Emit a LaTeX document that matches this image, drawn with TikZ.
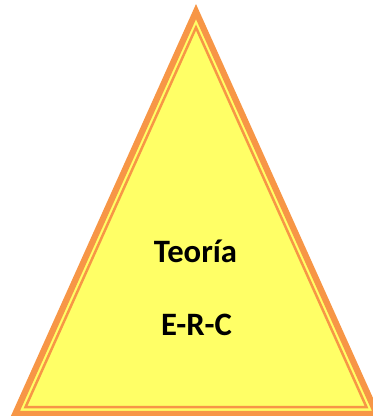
\documentclass[tikz,border=0pt]{standalone}
\usepackage{fontspec}
\setmainfont{Carlito}
\definecolor{triorange}{HTML}{F79646}
\definecolor{triyellow}{HTML}{FFFF66}
\begin{document}
\begin{tikzpicture}[x=0.75pt,y=-0.75pt,
  outerline/.style={draw=triorange,line width=6.2*0.75pt,fill=triyellow,line join=miter},
  innerline/.style={draw=triorange,line width=2.5*0.75pt,line join=miter},
  lbl/.style={font=\fontsize{24.5}{29}\selectfont\bfseries,inner sep=0pt,anchor=base}]
\useasboundingbox (0,0) rectangle (373,416);
\coordinate (A) at (196,11.6);
\coordinate (B) at (15.2,414);
\coordinate (C) at (376.8,414);
\coordinate (a) at (196,27.5);
\coordinate (b) at (25.5,407.2);
\coordinate (c) at (366.5,407.2);
\filldraw[outerline] (A) -- (B) -- (C) -- cycle;
\draw[innerline] (a) -- (b) -- (c) -- cycle;
\node[lbl] (t1) at (195.5,262.3) {Teoría};
\node[lbl] (t2) at (196.5,335) {E-R-C};
\end{tikzpicture}
\end{document}
